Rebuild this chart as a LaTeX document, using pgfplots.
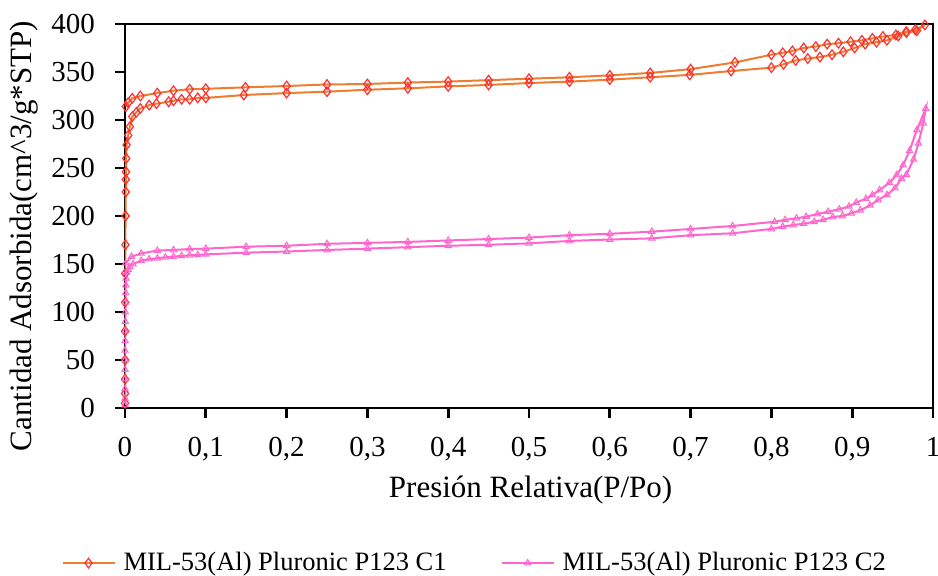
\documentclass[border=0pt]{standalone}
\usepackage{fontspec}
\setmainfont{Liberation Serif}
\usepackage{pgfplots}
\pgfplotsset{compat=1.18}
\definecolor{c1line}{HTML}{ED7D31}
\definecolor{c1mark}{HTML}{FF3030}
\definecolor{c2line}{HTML}{FF66CC}
\begin{document}
\begin{tikzpicture}
\path[use as bounding box] (-62.5pt,-84pt) rectangle (406.5pt,204pt);
\begin{axis}[
  at={(0,0)}, anchor=south west,
  scale only axis, width=404pt, height=192pt,
  xmin=0, xmax=1, ymin=0, ymax=400,
  xtick={0,0.1,0.2,0.3,0.4,0.5,0.6,0.7,0.8,0.9,1},
  ytick={0,50,100,150,200,250,300,350,400},
  xtick pos=bottom, ytick pos=left,
  tick align=outside,
  major tick length=5pt,
  axis line style={line width=1.4pt, black},
  major tick style={line width=1.4pt, black},
  /pgf/number format/assume math mode=true,
  xticklabel style={/pgf/number format/use comma, /pgf/number format/fixed, /pgf/number format/precision=1,
    font=\fontsize{14.5}{17}\selectfont, yshift=-6pt},
  yticklabel style={font=\fontsize{14.5}{17}\selectfont, xshift=-6.5pt},
  xlabel={Presión Relativa(P/Po)},
  ylabel={Cantidad Adsorbida(cm\textasciicircum 3/g*STP)},
  every axis x label/.style={at={(axis description cs:0.502,-0.2135)}, anchor=center, font=\fontsize{15.5}{18}\selectfont},
  every axis y label/.style={at={(axis description cs:-0.125,0.448)}, anchor=center, rotate=90, font=\fontsize{15.5}{18}\selectfont},
  legend style={at={(axis description cs:0.434,-0.404)}, anchor=center, draw=none,
    font=\fontsize{13.25}{16}\selectfont, column sep=2pt,
    /tikz/every even column/.append style={column sep=25pt}},
  legend columns=2,
  legend image code/.code={\draw[mark repeat=2,mark phase=2,#1] plot coordinates {(0pt,0pt)(13pt,0pt)(26pt,0pt)};},
]
\addplot[draw=c1line, line width=1pt, mark=diamond, mark size=2.4pt,
  mark options={solid, draw=c1mark, fill=white, line width=0.6pt}] coordinates {
(0.00001,5) (0.00002,15) (0.00003,30) (0.00005,50) (0.0001,80) (0.0002,110)
(0.0003,140) (0.0005,170) (0.0007,200) (0.0009,225) (0.001,238) (0.0012,246)
(0.0015,260) (0.002,274) (0.004,284) (0.006,293) (0.009,303.5) (0.014,308)
(0.019,312) (0.03,315.5) (0.039,317) (0.054,319) (0.06,320) (0.07,321.5)
(0.08,321.5) (0.09,323) (0.1,323) (0.147,326) (0.2,328) (0.25,329.5)
(0.3,331.5) (0.35,333) (0.4,335) (0.45,336.5) (0.5,338.5) (0.55,340)
(0.6,342) (0.65,344.5) (0.699,347) (0.75,351) (0.8,354.5) (0.815,358)
(0.83,362) (0.845,364) (0.86,365.5) (0.875,368) (0.889,371) (0.903,375)
(0.916,379) (0.93,381) (0.943,383) (0.957,387.5) (0.967,391) (0.98,393)
(0.99,399)
(0.978,394) (0.967,392) (0.954,388.5) (0.938,387) (0.925,385) (0.912,383)
(0.898,381.5) (0.883,380) (0.869,379) (0.855,376.5) (0.84,375) (0.826,372)
(0.814,370) (0.8,368) (0.755,360) (0.7,353) (0.65,349) (0.6,346.5)
(0.55,344.5) (0.5,343) (0.45,341.5) (0.4,340) (0.35,339) (0.3,337.5)
(0.25,337) (0.2,335.4) (0.149,334) (0.1,332.5) (0.08,332) (0.06,330.5)
(0.04,328) (0.019,325) (0.009,322.6) (0.004,318) (0.001,314)
};
\addlegendentry{MIL-53(Al) Pluronic P123 C1}
\addplot[draw=c2line, line width=1pt, mark=triangle, mark size=1.8pt,
  mark options={solid, draw=c2line, fill=white, line width=0.5pt}] coordinates {
(0.00001,3) (0.00002,10) (0.00003,20) (0.00004,30) (0.00005,40) (0.00007,50)
(0.0001,60) (0.00015,70) (0.0002,80) (0.0003,90) (0.0004,100) (0.0006,110)
(0.0008,120) (0.001,128) (0.0013,135) (0.002,141) (0.004,144) (0.006,147)
(0.01,150) (0.02,153.5) (0.03,155) (0.04,156) (0.05,157) (0.06,157.6)
(0.07,158.5) (0.08,159) (0.09,159.5) (0.1,160) (0.15,161.8) (0.2,163)
(0.25,164.6) (0.3,166) (0.35,167.5) (0.4,169) (0.45,170) (0.5,171.5)
(0.55,174) (0.6,175.5) (0.652,176.7) (0.7,180) (0.752,182) (0.8,186.5)
(0.814,189) (0.827,190.6) (0.84,192) (0.853,194) (0.864,196) (0.876,199)
(0.888,200) (0.899,202.8) (0.91,206) (0.922,211) (0.932,216.7) (0.943,222)
(0.953,229) (0.961,239) (0.967,243) (0.976,259) (0.982,275.7) (0.988,296.6)
(0.991,312)
(0.98,289.6) (0.971,268) (0.963,253) (0.955,242.7) (0.946,234.7) (0.934,227)
(0.925,222) (0.917,218) (0.905,214) (0.896,210) (0.884,207) (0.87,204.5)
(0.857,202) (0.843,199.3) (0.831,197.6) (0.817,196) (0.804,194) (0.752,189.6)
(0.7,186.5) (0.652,183.7) (0.6,181.5) (0.55,180) (0.5,177.5) (0.45,176)
(0.4,174.5) (0.35,173) (0.3,172) (0.25,171) (0.2,169) (0.15,168)
(0.1,166) (0.08,165.6) (0.06,164.6) (0.04,164) (0.02,161) (0.008,157.6)
(0.001,151)
};
\addlegendentry{MIL-53(Al) Pluronic P123 C2}
\end{axis}
\end{tikzpicture}
\end{document}
